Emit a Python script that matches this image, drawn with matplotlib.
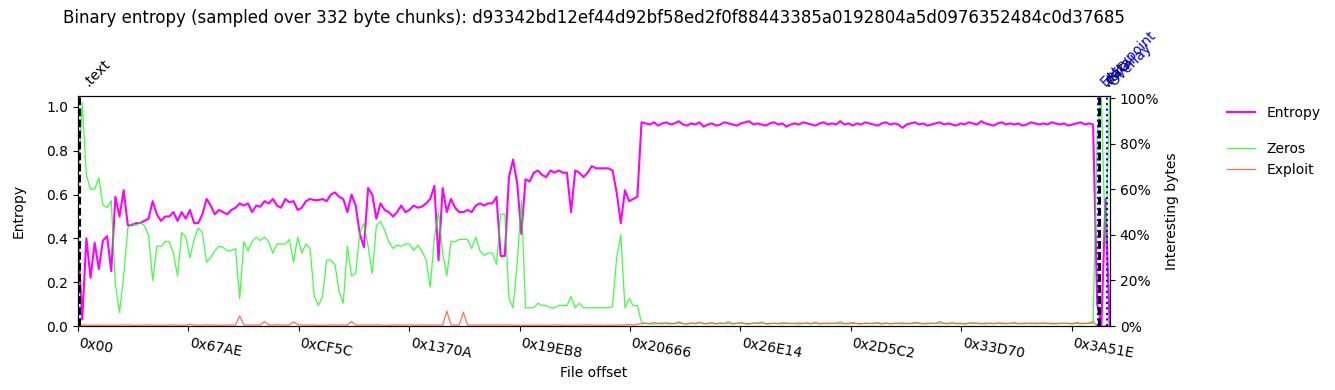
import numpy as np
import matplotlib
matplotlib.use("Agg")
import matplotlib.pyplot as plt
import matplotlib.transforms as mtransforms
from matplotlib.ticker import PercentFormatter

CHUNK = 332
STEP = 3 * CHUNK          # one sample every 3 chunks
FILE_SIZE = 248100
SHA256 = "d93342bd12ef44d92bf58ed2f0f88443385a0192804a5d0976352484c0d37685"

# entropy per sample (0..1)
entropy = [
  0.38, 0.03, 0.40, 0.22, 0.38, 0.26, 0.39, 0.41, 0.25, 0.59,
  0.50, 0.62, 0.46, 0.46, 0.47, 0.47, 0.48, 0.49, 0.57, 0.51,
  0.48, 0.50, 0.50, 0.52, 0.48, 0.52, 0.49, 0.53, 0.47, 0.47,
  0.51, 0.58, 0.55, 0.51, 0.53, 0.52, 0.51, 0.53, 0.54, 0.56,
  0.55, 0.56, 0.52, 0.55, 0.545, 0.57, 0.56, 0.58, 0.55, 0.54,
  0.58, 0.565, 0.57, 0.53, 0.54, 0.57, 0.58, 0.575, 0.575, 0.58,
  0.57, 0.60, 0.61, 0.59, 0.58, 0.52, 0.60, 0.55, 0.42, 0.36,
  0.63, 0.60, 0.49, 0.56, 0.53, 0.52, 0.50, 0.52, 0.55, 0.52,
  0.53, 0.55, 0.54, 0.545, 0.56, 0.58, 0.64, 0.30, 0.63, 0.52,
  0.58, 0.54, 0.52, 0.52, 0.53, 0.52, 0.55, 0.56, 0.55, 0.56,
  0.56, 0.59, 0.32, 0.32, 0.68, 0.76, 0.65, 0.42, 0.67, 0.66,
  0.70, 0.71, 0.69, 0.68, 0.71, 0.70, 0.71, 0.70, 0.70, 0.52,
  0.71, 0.70, 0.68, 0.70, 0.73, 0.72, 0.72, 0.72, 0.72, 0.71,
  0.61, 0.47, 0.62, 0.57, 0.58, 0.59, 0.93,
  0.925, 0.92, 0.93, 0.915, 0.925, 0.93, 0.92, 0.925, 0.935, 0.92,
  0.915, 0.925, 0.92, 0.93, 0.91, 0.92, 0.925, 0.915, 0.92, 0.93,
  0.925, 0.92, 0.915, 0.925, 0.93, 0.935, 0.92, 0.925, 0.92, 0.915,
  0.925, 0.93, 0.92, 0.925, 0.91, 0.92, 0.925, 0.92, 0.93, 0.925,
  0.92, 0.915, 0.925, 0.93, 0.92, 0.925, 0.92, 0.935, 0.92, 0.925,
  0.915, 0.925, 0.92, 0.93, 0.925, 0.92, 0.915, 0.925, 0.93, 0.92,
  0.925, 0.92, 0.905, 0.92, 0.925, 0.93, 0.92, 0.925, 0.915, 0.92,
  0.925, 0.93, 0.92, 0.925, 0.92, 0.915, 0.925, 0.92, 0.93, 0.925,
  0.92, 0.935, 0.925, 0.92, 0.915, 0.925, 0.93, 0.92, 0.925, 0.92,
  0.925, 0.915, 0.92, 0.93, 0.925, 0.92, 0.925, 0.92, 0.93, 0.925,
  0.92, 0.925, 0.915, 0.92, 0.925, 0.93, 0.92, 0.925,
  0.92, 0.10, 0.0, 0.58, 0.0,
]

# share of zero bytes per sample (0..1)
zeros = [
  0.64, 0.98, 0.66, 0.60, 0.60, 0.65, 0.53, 0.52, 0.55, 0.18,
  0.06, 0.22, 0.43, 0.45, 0.44, 0.455, 0.44, 0.40, 0.20, 0.35,
  0.35, 0.37, 0.37, 0.32, 0.22, 0.41, 0.39, 0.30, 0.38, 0.43,
  0.41, 0.28, 0.30, 0.33, 0.35, 0.345, 0.33, 0.33, 0.34, 0.12,
  0.37, 0.33, 0.37, 0.39, 0.375, 0.39, 0.37, 0.32, 0.36, 0.36,
  0.36, 0.38, 0.28, 0.39, 0.32, 0.36, 0.34, 0.13, 0.09, 0.13,
  0.29, 0.29, 0.27, 0.15, 0.10, 0.35, 0.22, 0.23, 0.41, 0.45,
  0.35, 0.23, 0.44, 0.46, 0.42, 0.37, 0.34, 0.355, 0.35, 0.36,
  0.36, 0.33, 0.355, 0.33, 0.29, 0.17, 0.39, 0.50, 0.32, 0.22,
  0.37, 0.37, 0.38, 0.38, 0.38, 0.34, 0.39, 0.33, 0.31, 0.32,
  0.32, 0.27, 0.49, 0.49, 0.12, 0.08, 0.28, 0.55, 0.08, 0.08,
  0.08, 0.10, 0.09, 0.09, 0.08, 0.08, 0.09, 0.09, 0.09, 0.13,
  0.08, 0.10, 0.08, 0.08, 0.08, 0.08, 0.08, 0.08, 0.08, 0.085,
  0.30, 0.40, 0.08, 0.12, 0.09, 0.09, 0.015,
  0.012, 0.01, 0.008, 0.012, 0.014, 0.01, 0.009, 0.011, 0.013, 0.01,
  0.008, 0.012, 0.01, 0.014, 0.011, 0.009, 0.012, 0.01, 0.013, 0.01,
  0.011, 0.009, 0.012, 0.015, 0.01, 0.008, 0.012, 0.011, 0.013, 0.009,
  0.01, 0.012, 0.011, 0.009, 0.013, 0.01, 0.012, 0.008, 0.011, 0.014,
  0.01, 0.012, 0.009, 0.011, 0.013, 0.01, 0.012, 0.009, 0.011, 0.01,
  0.013, 0.011, 0.009, 0.012, 0.01, 0.014, 0.011, 0.008, 0.012, 0.01,
  0.011, 0.013, 0.009, 0.012, 0.01, 0.011, 0.014, 0.01, 0.009, 0.012,
  0.011, 0.01, 0.013, 0.009, 0.012, 0.01, 0.011, 0.008, 0.012, 0.01,
  0.013, 0.011, 0.009, 0.012, 0.01, 0.011, 0.014, 0.009, 0.012, 0.01,
  0.011, 0.009, 0.012, 0.01, 0.013, 0.011, 0.01, 0.012, 0.009, 0.011,
  0.01, 0.012, 0.011, 0.009, 0.012, 0.01, 0.011, 0.013,
  0.01, 0.85, 1.0, 0.35, 1.0,
]

# share of exploit-like bytes per sample (0..1)
exploit = [
  0.0, 0.004, 0.004, 0.003, 0.004, 0.004, 0.003, 0.004, 0.004, 0.003,
  0.004, 0.004, 0.005, 0.004, 0.003, 0.004, 0.004, 0.005, 0.004, 0.004,
  0.004, 0.003, 0.004, 0.005, 0.004, 0.004, 0.003, 0.008, 0.004, 0.004,
  0.004, 0.005, 0.004, 0.004, 0.003, 0.004, 0.004, 0.005, 0.004, 0.045,
  0.005, 0.004, 0.004, 0.005, 0.004, 0.02, 0.005, 0.004, 0.006, 0.004,
  0.004, 0.005, 0.018, 0.006, 0.004, 0.004, 0.005, 0.004, 0.003, 0.004,
  0.004, 0.005, 0.004, 0.004, 0.005, 0.004, 0.02, 0.004, 0.004, 0.005,
  0.004, 0.004, 0.005, 0.004, 0.003, 0.004, 0.004, 0.005, 0.004, 0.004,
  0.005, 0.004, 0.004, 0.005, 0.004, 0.004, 0.005, 0.004, 0.004, 0.065,
  0.005, 0.004, 0.004, 0.06, 0.005, 0.004, 0.004, 0.005, 0.004, 0.004,
  0.004, 0.005, 0.004, 0.004, 0.005, 0.004, 0.004, 0.003, 0.004, 0.004,
  0.004, 0.004, 0.003, 0.004, 0.004, 0.005, 0.004, 0.004, 0.003, 0.004,
  0.004, 0.004, 0.004, 0.005, 0.004, 0.004, 0.004, 0.003, 0.004, 0.004,
  0.004, 0.004, 0.005, 0.006, 0.004, 0.008, 0.010,
  0.012, 0.010, 0.016, 0.011, 0.009, 0.014, 0.012, 0.010, 0.018, 0.011,
  0.010, 0.013, 0.011, 0.016, 0.010, 0.012, 0.015, 0.009, 0.012, 0.011,
  0.019, 0.010, 0.012, 0.014, 0.011, 0.010, 0.013, 0.012, 0.017, 0.010,
  0.011, 0.012, 0.010, 0.015, 0.011, 0.012, 0.010, 0.014, 0.011, 0.012,
  0.010, 0.016, 0.011, 0.012, 0.010, 0.013, 0.011, 0.018, 0.010, 0.012,
  0.014, 0.011, 0.010, 0.012, 0.012, 0.010, 0.015, 0.011, 0.013, 0.010,
  0.012, 0.011, 0.014, 0.010, 0.012, 0.016, 0.011, 0.010, 0.013, 0.012,
  0.011, 0.020, 0.010, 0.012, 0.014, 0.011, 0.012, 0.010, 0.012, 0.015,
  0.011, 0.010, 0.013, 0.012, 0.011, 0.014, 0.010, 0.012, 0.011, 0.016,
  0.010, 0.012, 0.011, 0.013, 0.010, 0.012, 0.014, 0.011, 0.012, 0.010,
  0.013, 0.011, 0.012, 0.010, 0.015, 0.012, 0.011, 0.012,
  0.02, 0.0, 0.0, 0.0, 0.0,
]

tick_offsets = [0x0, 0x67AE, 0xCF5C, 0x1370A, 0x19EB8, 0x20666, 0x26E14, 0x2D5C2, 0x33D70, 0x3A51E]

section_names = [".text", ".data", ".rsrc"]
section_offsets = [0x200, 0x3BF00, 0x3C000]
marker_names = ["Entrypoint", "Overlay"]
marker_offsets = [0x3BE00, 0x3C600]


def hex_label(v):
  return "0x%02X" % v


offsets = np.arange(len(entropy)) * STEP

fig = plt.figure(figsize=(13.35, 3.9), dpi=100)
ax = fig.add_axes([0.0585, 0.1641, 0.7730, 0.5897])
ax2 = ax.twinx()

h_ent, = ax.plot(offsets, entropy, color="magenta", linewidth=1.5, label="Entropy")
h_zero, = ax2.plot(offsets, zeros, color="lime", linewidth=0.9, alpha=0.75, label="Zeros")
h_expl, = ax2.plot(offsets, exploit, color="#ff5a36", linewidth=0.9, alpha=0.85, label="Exploit")

ax.set_xlim(0, FILE_SIZE)
ax.set_ylim(0, 1.05)
ax2.set_ylim(0, 1.009)
ax2.set_yticks([0, 0.2, 0.4, 0.6, 0.8, 1.0])
ax2.yaxis.set_major_formatter(PercentFormatter(1.0, decimals=0))

ax.set_xticks(tick_offsets)
ax.set_xticklabels([hex_label(t) for t in tick_offsets], rotation=-10, ha="left")

ax.set_xlabel("File offset")
ax.set_ylabel("Entropy", labelpad=15)
ax2.set_ylabel("Interesting bytes")

trans = mtransforms.blended_transform_factory(ax.transData, ax.transAxes)
for name, off in zip(section_names, section_offsets):
  ax2.axvline(off, color="black", linestyle="--", linewidth=1.5)
  ax.text(off, 1.03, name, rotation=45, transform=trans, ha="left", va="bottom", fontsize=10, color="black")
for name, off in zip(marker_names, marker_offsets):
  ax2.axvline(off, color="blue", linestyle=":", linewidth=1.5)
  ax.text(off, 1.03, name, rotation=45, transform=trans, ha="left", va="bottom", fontsize=10, color="blue")

fig.text(0.4448, 0.954, "Binary entropy (sampled over %d byte chunks): %s" % (CHUNK, SHA256),
         ha="center", va="center", fontsize=12)

fig.legend(handles=[h_ent], loc="upper left", bbox_to_anchor=(0.910, 0.760), frameon=False)
fig.legend(handles=[h_zero, h_expl], loc="upper left", bbox_to_anchor=(0.910, 0.668), frameon=False)

fig.savefig("out.png", dpi=100)
plt.close(fig)
